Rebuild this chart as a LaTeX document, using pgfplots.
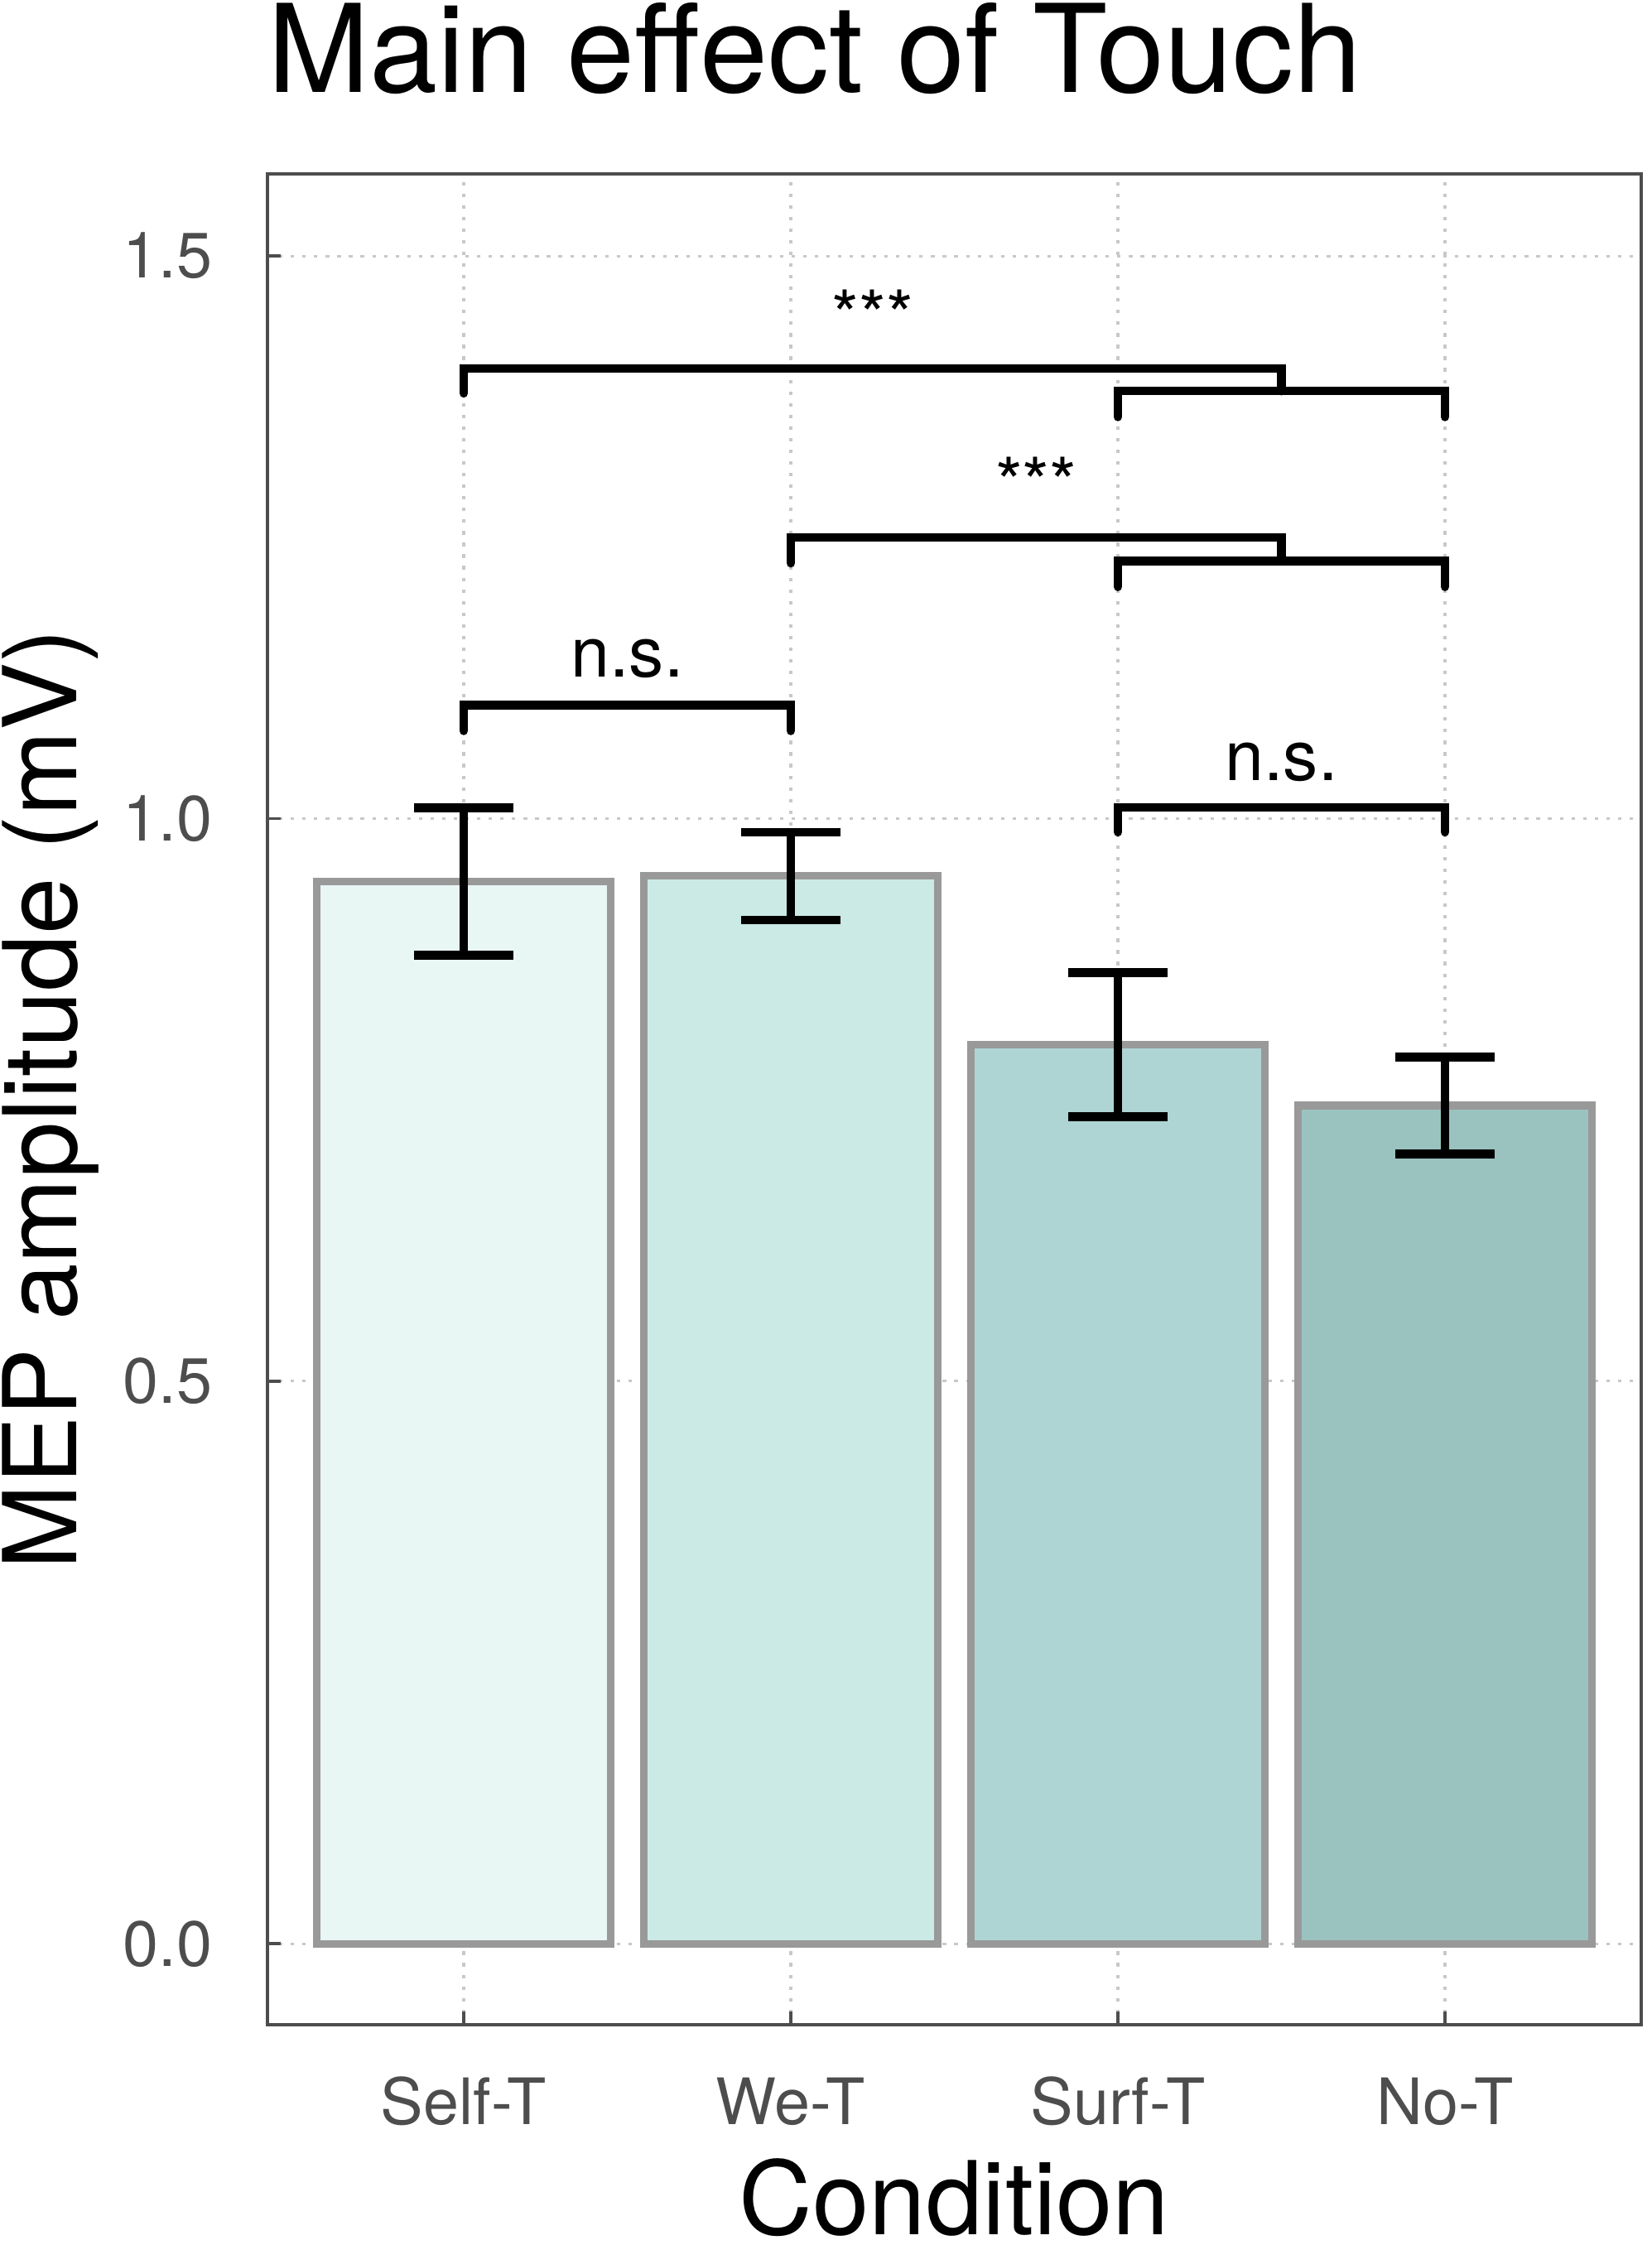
\documentclass[border=0pt]{standalone}
\usepackage{fontspec}
\setmainfont{TeX Gyre Heros}
\usepackage{pgfplots}
\pgfplotsset{compat=1.18}
\definecolor{c1}{HTML}{E8F6F4}
\definecolor{c2}{HTML}{CBEAE5}
\definecolor{c3}{HTML}{AED5D3}
\definecolor{c4}{HTML}{9AC3BF}
\definecolor{edge}{HTML}{999999}
\definecolor{axgray}{HTML}{4D4D4D}
\definecolor{gridgray}{HTML}{C8C8C8}
\begin{document}
\begin{tikzpicture}
\useasboundingbox (-3.23,-2.66) rectangle (16.72,24.45);
\begin{axis}[
  at={(0,0)}, anchor=south west,
  width=16.59cm, height=22.35cm, scale only axis,
  xmin=0.4, xmax=4.6, ymin=-0.072, ymax=1.573,
  xtick={1,2,3,4}, xticklabels={Self-T,We-T,Surf-T,No-T},
  ytick={0,0.5,1,1.5}, yticklabels={0.0,0.5,1.0,1.5},
  /pgf/number format/assume math mode=true,
  tick align=inside, xtick pos=bottom, ytick pos=left,
  major tick length=0.16cm,
  tick style={axgray, line width=1.1pt},
  axis line style={axgray, line width=1.3pt},
  grid=major,
  grid style={gridgray, line width=0.9pt, dash pattern=on 1.2pt off 2.8pt},
  ticklabel style={font=\fontsize{22}{26}\selectfont, text=axgray},
  yticklabel style={anchor=east, inner sep=0pt, xshift=-0.66cm},
  xticklabel style={anchor=base, inner sep=0pt, yshift=-1.20cm},
  clip=false,
  error bars/error bar style={black, line width=3pt},
  error bars/error mark options={black, rotate=90, mark size=17pt, line width=3pt},
]
\addplot[ybar, bar width=0.9, bar shift=0pt, fill=c1, draw=edge, line width=2.6pt,
  error bars/.cd, y dir=both, y explicit]
  coordinates {(1,0.944) +- (0,0.0655)};
\addplot[ybar, bar width=0.9, bar shift=0pt, fill=c2, draw=edge, line width=2.6pt,
  error bars/.cd, y dir=both, y explicit]
  coordinates {(2,0.949) +- (0,0.039)};
\addplot[ybar, bar width=0.9, bar shift=0pt, fill=c3, draw=edge, line width=2.6pt,
  error bars/.cd, y dir=both, y explicit]
  coordinates {(3,0.799) +- (0,0.064)};
\addplot[ybar, bar width=0.9, bar shift=0pt, fill=c4, draw=edge, line width=2.6pt,
  error bars/.cd, y dir=both, y explicit]
  coordinates {(4,0.745) +- (0,0.043)};
% significance brackets
\addplot[sharp plot, black, line width=3pt, line cap=round, mark=none]
  coordinates {(1,1.378) (1,1.400) (3.5,1.400) (3.5,1.380)};
\addplot[sharp plot, black, line width=3pt, line cap=round, mark=none]
  coordinates {(3,1.357) (3,1.380) (4,1.380) (4,1.357)};
\addplot[sharp plot, black, line width=3pt, line cap=round, mark=none]
  coordinates {(2,1.227) (2,1.250) (3.5,1.250) (3.5,1.229)};
\addplot[sharp plot, black, line width=3pt, line cap=round, mark=none]
  coordinates {(3,1.206) (3,1.229) (4,1.229) (4,1.206)};
\addplot[sharp plot, black, line width=3pt, line cap=round, mark=none]
  coordinates {(1,1.078) (1,1.101) (2,1.101) (2,1.078)};
\addplot[sharp plot, black, line width=3pt, line cap=round, mark=none]
  coordinates {(3,0.988) (3,1.010) (4,1.010) (4,0.988)};
\node[anchor=base, inner sep=0pt, font=\fontsize{24}{28}\selectfont] at (axis cs:2.25,1.425) {***};
\node[anchor=base, inner sep=0pt, font=\fontsize{24}{28}\selectfont] at (axis cs:2.75,1.276) {***};
\node[anchor=base, inner sep=0pt, font=\fontsize{24}{28}\selectfont] at (axis cs:1.5,1.126) {n.s.};
\node[anchor=base, inner sep=0pt, font=\fontsize{24}{28}\selectfont] at (axis cs:3.5,1.034) {n.s.};
\coordinate (TL) at (rel axis cs:0,1);
\coordinate (ML) at (rel axis cs:0,0.5);
\coordinate (BM) at (rel axis cs:0.5,0);
\end{axis}
\node[anchor=base west, inner sep=0pt, font=\fontsize{42}{50}\selectfont] at ([yshift=0.98cm]TL) {Main effect of Touch};
\node[anchor=base, inner sep=0pt, rotate=90, font=\fontsize{35}{42}\selectfont] at ([xshift=-2.30cm]ML) {MEP amplitude (mV)};
\node[anchor=base, inner sep=0pt, font=\fontsize{35}{42}\selectfont] at ([yshift=-2.53cm]BM) {Condition};
\end{tikzpicture}
\end{document}
